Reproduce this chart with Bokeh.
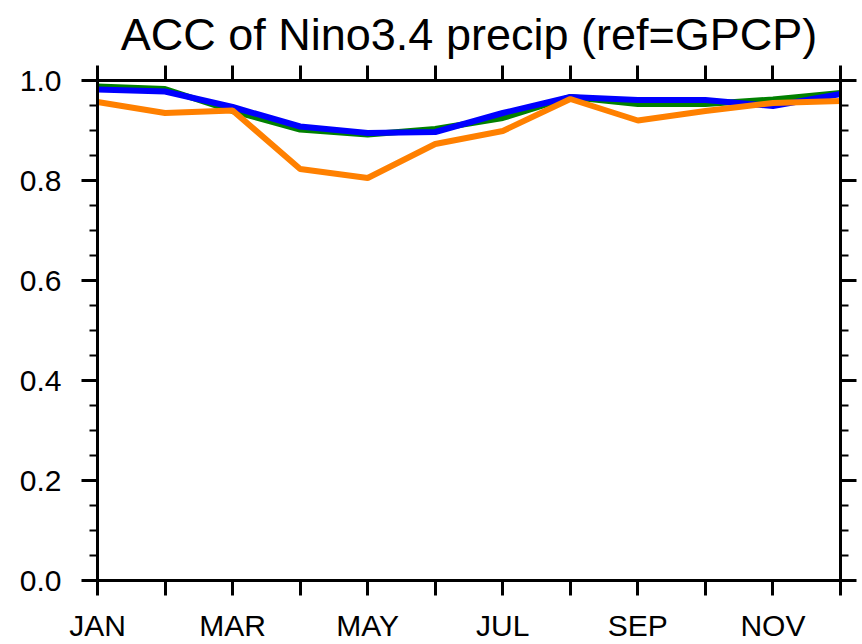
from bokeh.plotting import figure
from bokeh.models import LinearAxis, FixedTicker, SingleIntervalTicker, Range1d, Title, CustomJSTickFormatter
from bokeh.embed import file_html
from bokeh.resources import INLINE

# ---- data ----
months = [1, 2, 3, 4, 5, 6, 7, 8, 9, 10, 11, 12]
month_labels = ["JAN", "", "MAR", "", "MAY", "", "JUL", "", "SEP", "", "NOV", ""]
acc_green = [0.988, 0.983, 0.939, 0.902, 0.892, 0.903, 0.925, 0.967, 0.953, 0.953, 0.962, 0.975]
acc_blue = [0.982, 0.978, 0.947, 0.908, 0.895, 0.897, 0.935, 0.967, 0.961, 0.961, 0.949, 0.973]
acc_orange = [0.957, 0.935, 0.940, 0.823, 0.805, 0.873, 0.899, 0.963, 0.920, 0.939, 0.955, 0.959]
y_ticks = [0.0, 0.2, 0.4, 0.6, 0.8, 1.0]
title_text = "ACC of Nino3.4 precip (ref=GPCP)"

FONT = "Liberation Sans"

p = figure(width=862, height=644, output_backend="svg", toolbar_location=None,
           x_range=Range1d(1, 12), y_range=Range1d(0, 1),
           x_axis_location=None, y_axis_location=None,
           min_border_left=97, min_border_right=22, min_border_top=80, min_border_bottom=64)
p.grid.visible = False
p.outline_line_color = None
p.background_fill_color = "white"
p.border_fill_color = "white"

p.line(months, acc_green, line_color="#008000", line_width=6)
p.line(months, acc_blue, line_color="#0000FF", line_width=6)
p.line(months, acc_orange, line_color="#FF8000", line_width=6)

overrides = {m: lab for m, lab in zip(months, month_labels)}
blank = CustomJSTickFormatter(code="return ''")

def style(ax, labels=True):
    ax.axis_line_width = 3
    ax.axis_line_color = "black"
    ax.major_tick_line_width = 3
    ax.minor_tick_line_width = 2
    ax.major_tick_in = 0
    ax.minor_tick_in = 0
    ax.major_label_text_font = FONT
    ax.major_label_text_color = "black"
    if not labels:
        ax.formatter = blank
        ax.major_label_standoff = 0

# bottom
xb = LinearAxis(ticker=FixedTicker(ticks=months), major_label_overrides=overrides)
style(xb)
xb.major_tick_out = 15
xb.major_label_text_font_size = "30px"
xb.major_label_standoff = 13
p.add_layout(xb, "below")

# top
xt = LinearAxis(ticker=FixedTicker(ticks=months))
style(xt, labels=False)
xt.major_tick_out = 15
p.add_layout(xt, "above")

# left
yl = LinearAxis(ticker=SingleIntervalTicker(interval=0.2, num_minor_ticks=4))
style(yl)
yl.major_tick_out = 16
yl.minor_tick_out = 8
yl.major_label_text_font_size = "30px"
yl.major_label_standoff = 20
yl.major_label_overrides = {v: f"{v:.1f}" for v in y_ticks}
p.add_layout(yl, "left")

# right
yr = LinearAxis(ticker=SingleIntervalTicker(interval=0.2, num_minor_ticks=4))
style(yr, labels=False)
yr.major_tick_out = 16
yr.minor_tick_out = 8
p.add_layout(yr, "right")

p.title = Title(text=title_text, align="center", text_font=FONT,
                text_font_size="45px", text_font_style="normal", text_color="black",
                standoff=12, offset=0)

open("out.html", "w").write(file_html(p, INLINE))
